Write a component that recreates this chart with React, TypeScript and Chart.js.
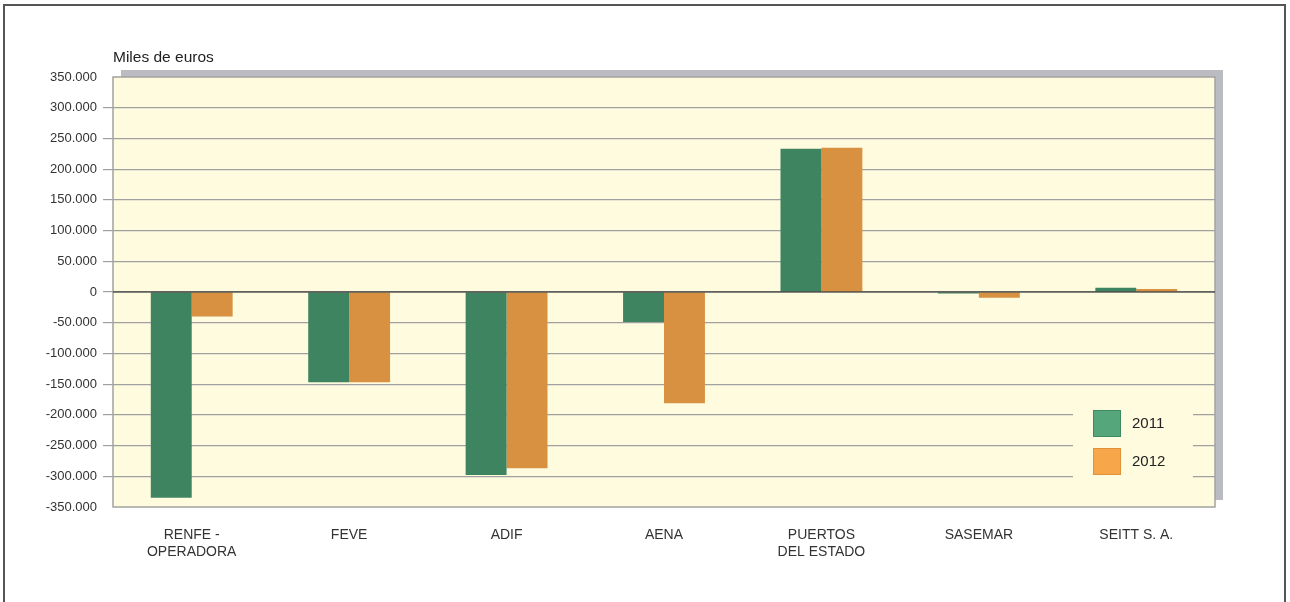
import React, { useEffect, useRef } from "react";
import { Chart, registerables } from "chart.js";

Chart.register(...registerables);

const categories: (string | string[])[] = [
  ["RENFE -", "OPERADORA"],
  "FEVE",
  "ADIF",
  "AENA",
  ["PUERTOS", "DEL ESTADO"],
  "SASEMAR",
  "SEITT S. A.",
];
const seriesLabels = ["2011", "2012"];
const values2011 = [-335000, -147000, -298000, -49000, 233000, -2500, 7000];
const values2012 = [-40000, -147000, -287000, -181000, 235000, -9500, 5000];
const yMin = -350000;
const yMax = 350000;
const yStep = 50000;
const yAxisTitle = "Miles de euros";

const barColors = ["#3E8460", "#D89141"];
const legendColors = ["#55A67A", "#F8A64A"];
const legendBorders = ["#3E8A62", "#E0923A"];

function fmt(v: number): string {
  if (v === 0) return "0";
  const s = Math.abs(v).toString().replace(/\B(?=(\d{3})+(?!\d))/g, ".");
  return (v < 0 ? "-" : "") + s;
}

const FONT = "'Liberation Sans', Arial, sans-serif";

const framePlugin = {
  id: "framePlugin",
  beforeDraw(chart: any) {
    const { ctx, chartArea } = chart;
    const { left, right, top, bottom } = chartArea;
    ctx.save();
    ctx.fillStyle = "#BBBCC1";
    ctx.fillRect(left + 8, top - 7, right - left, bottom - top);
    ctx.fillStyle = "#FFFBDF";
    ctx.fillRect(left, top, right - left, bottom - top);
    ctx.restore();
  },
  afterDatasetsDraw(chart: any) {
    const { ctx, chartArea } = chart;
    const { left, right, top, bottom } = chartArea;
    ctx.save();
    ctx.strokeStyle = "#A3A3A0";
    ctx.lineWidth = 1.5;
    ctx.strokeRect(left, top, right - left, bottom - top);
    const y0 = chart.scales.y.getPixelForValue(0);
    ctx.strokeStyle = "#222";
    ctx.lineWidth = 1.2;
    ctx.beginPath();
    ctx.moveTo(left, y0);
    ctx.lineTo(right, y0);
    ctx.stroke();
    ctx.fillStyle = "#222";
    ctx.font = `15.5px ${FONT}`;
    ctx.textAlign = "left";
    ctx.textBaseline = "middle";
    ctx.fillText(yAxisTitle, left, top - 19);
    const lx = right - 142;
    const ly = bottom - 112;
    ctx.fillStyle = "#FFFBDF";
    ctx.fillRect(lx, ly, 120, 94);
    chart.data.datasets.forEach((ds: any, i: number) => {
      const by = ly + 15 + i * 38;
      ctx.fillStyle = legendColors[i];
      ctx.fillRect(lx + 20, by, 28, 27);
      ctx.strokeStyle = legendBorders[i];
      ctx.lineWidth = 1;
      ctx.strokeRect(lx + 20.5, by + 0.5, 27, 26);
      ctx.fillStyle = "#222";
      ctx.font = `15px ${FONT}`;
      ctx.textAlign = "left";
      ctx.textBaseline = "middle";
      ctx.fillText(ds.label, lx + 59, by + 14);
    });
    ctx.restore();
  },
};

export default function App() {
  const ref = useRef<HTMLCanvasElement | null>(null);
  useEffect(() => {
    if (!ref.current) return;
    const chart = new Chart(ref.current, {
      type: "bar",
      data: {
        labels: categories,
        datasets: [
          {
            label: seriesLabels[0],
            data: values2011,
            backgroundColor: barColors[0],
            categoryPercentage: 0.52,
            barPercentage: 1,
          },
          {
            label: seriesLabels[1],
            data: values2012,
            backgroundColor: barColors[1],
            categoryPercentage: 0.52,
            barPercentage: 1,
          },
        ],
      },
      options: {
        animation: false,
        responsive: false,
        devicePixelRatio: 1,
        layout: { padding: { left: 0, right: 75, top: 77, bottom: 0 } },
        plugins: {
          legend: { display: false },
          tooltip: { enabled: false },
          title: { display: false },
        },
        scales: {
          x: {
            grid: { display: false },
            border: { display: false },
            ticks: {
              color: "#333",
              font: { family: FONT, size: 14 },
              padding: 12,
              maxRotation: 0,
              autoSkip: false,
            },
            afterFit(scale: any) {
              scale.height = 95;
            },
          },
          y: {
            min: yMin,
            max: yMax,
            border: { display: false },
            grid: {
              color: (c: any) =>
                c.tick && (c.tick.value === yMin || c.tick.value === yMax)
                  ? "rgba(0,0,0,0)"
                  : "#A0A0A0",
              tickColor: (c: any) =>
                c.tick && (c.tick.value === yMin || c.tick.value === yMax)
                  ? "rgba(0,0,0,0)"
                  : "#A0A0A0",
              tickLength: 10,
              lineWidth: 1.2,
            },
            ticks: {
              stepSize: yStep,
              color: "#333",
              font: { family: FONT, size: 13 },
              padding: 6,
              callback: (v: any) => fmt(Number(v)),
            },
            afterFit(scale: any) {
              scale.width = 113;
            },
          },
        },
      },
      plugins: [framePlugin],
    });
    return () => chart.destroy();
  }, []);

  return (
    <div
      style={{
        position: "fixed",
        left: 0,
        top: 0,
        width: 1290,
        height: 602,
        background: "#fff",
        overflow: "hidden",
      }}
    >
      <div
        style={{
          position: "absolute",
          left: 3,
          top: 4,
          width: 1283,
          height: 620,
          border: "2px solid #555",
          boxSizing: "border-box",
        }}
      />
      <canvas
        ref={ref}
        width={1290}
        height={602}
        style={{ position: "absolute", left: 0, top: 0, width: 1290, height: 602 }}
      />
    </div>
  );
}
